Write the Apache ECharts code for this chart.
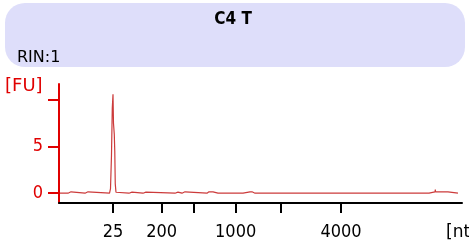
<!DOCTYPE html>
<html>
<head>
<meta charset="utf-8">
<script src="https://cdn.jsdelivr.net/npm/echarts@6/dist/echarts.min.js"></script>
<style>
  html, body { margin: 0; padding: 0; background: #fff; }
  #chart { width: 469px; height: 245px; }
</style>
</head>
<body>
<div id="chart"></div>
<script>
// electropherogram, x = migration time (s), y = fluorescence [FU]
var timeValues = [20.12, 21.12, 21.24, 21.49, 21.61, 23.23, 23.35, 23.60, 23.72,
    26.27, 26.39, 26.51, 26.61, 26.70, 26.76, 26.86, 26.92, 26.98, 27.07, 27.20,
    28.68, 28.81, 29.06, 29.18, 30.42, 30.55, 30.79, 30.92,
    34.39, 34.52, 34.76, 34.89, 35.26, 35.38, 35.63, 35.76,
    38.36, 38.61, 39.11, 39.24, 39.73,
    42.83, 42.95, 43.70, 43.82, 43.95, 44.19, 44.32,
    65.91, 66.03, 66.65, 66.69, 66.72, 68.26, 68.39, 69.50];
var fuValues = [0, 0, 0.15, 0.15, 0, 0, 0.15, 0.15, 0,
    0, 0.5, 4, 9.1, 10.6, 7.5, 6.3, 4.5, 1, 0.1, 0,
    0, 0.12, 0.12, 0, 0, 0.12, 0.12, 0,
    0, 0.12, 0.12, 0, 0, 0.15, 0.15, 0,
    0, 0.15, 0.15, 0.05, 0,
    0, 0.15, 0.15, 0.05, 0.15, 0.15, 0,
    0, 0.15, 0.15, 0.4, 0.15, 0.15, 0, 0];

// ladder positions on the time axis and their nt labels
var ladderTimes = [26.70, 32.74, 36.66, 41.92, 47.54, 54.99];
var ladderLabels = ['25', '200', '', '1000', '', '4000'];
var fuTicks = [0, 5, 10];
var fuLabels = [0, 5];

var sampleName = 'C4 T';
var rinText = 'RIN:1';

var FONT_C = '"DejaVu Sans Condensed", "DejaVu Sans", sans-serif';
var FONT = '"DejaVu Sans", sans-serif';

var points = timeValues.map(function (t, i) { return [t, fuValues[i]]; });

var chart = echarts.init(document.getElementById('chart'));
var option = {
    animation: false,
    backgroundColor: '#fff',
    grid: { left: 59, right: 7, top: 84, bottom: 42 },
    graphic: [
        {
            type: 'rect',
            shape: { x: 5, y: 3, width: 460, height: 64, r: 20 },
            style: { fill: '#dedefa' }
        },
        {
            type: 'text', x: 233, y: 20,
            style: { text: sampleName, fontFamily: FONT_C, fontSize: 17, fontWeight: 'bold',
                     fill: '#000', align: 'center', verticalAlign: 'middle' }
        },
        {
            type: 'text', x: 17, y: 58,
            style: { text: rinText, fontFamily: FONT, fontSize: 16, fill: '#000',
                     verticalAlign: 'middle' }
        },
        {
            type: 'text', x: 5, y: 86,
            style: { text: '[FU]', fontFamily: FONT, fontSize: 18, fill: '#e00000',
                     verticalAlign: 'middle' }
        },
        {
            type: 'text', x: 446, y: 233,
            style: { text: '[nt]', fontFamily: FONT, fontSize: 17, fill: '#000',
                     verticalAlign: 'middle' }
        }
    ],
    xAxis: {
        type: 'value',
        min: 20,
        max: 70,
        axisLine: { onZero: false, lineStyle: { color: '#000', width: 2 } },
        axisTick: { customValues: ladderTimes, length: 10, lineStyle: { color: '#000', width: 2 } },
        axisLabel: {
            customValues: ladderTimes,
            margin: 20,
            color: '#000',
            fontSize: 18,
            fontFamily: FONT_C,
            formatter: function (v) {
                var i = ladderTimes.indexOf(v);
                return i < 0 ? '' : ladderLabels[i];
            }
        },
        splitLine: { show: false }
    },
    yAxis: {
        type: 'value',
        min: -1.05,
        max: 11.7,
        axisLine: { show: true, onZero: false, lineStyle: { color: '#e00000', width: 2 } },
        axisTick: { show: true, customValues: fuTicks, length: 11, lineStyle: { color: '#e00000', width: 2 } },
        axisLabel: {
            customValues: fuLabels,
            margin: 16,
            color: '#e00000',
            fontSize: 18,
            fontFamily: FONT_C
        },
        splitLine: { show: false }
    },
    series: [{
        type: 'line',
        data: points,
        showSymbol: false,
        lineStyle: { color: '#cc3b3b', width: 1.2 },
        z: 3
    }]
};
chart.setOption(option);
</script>
</body>
</html>
